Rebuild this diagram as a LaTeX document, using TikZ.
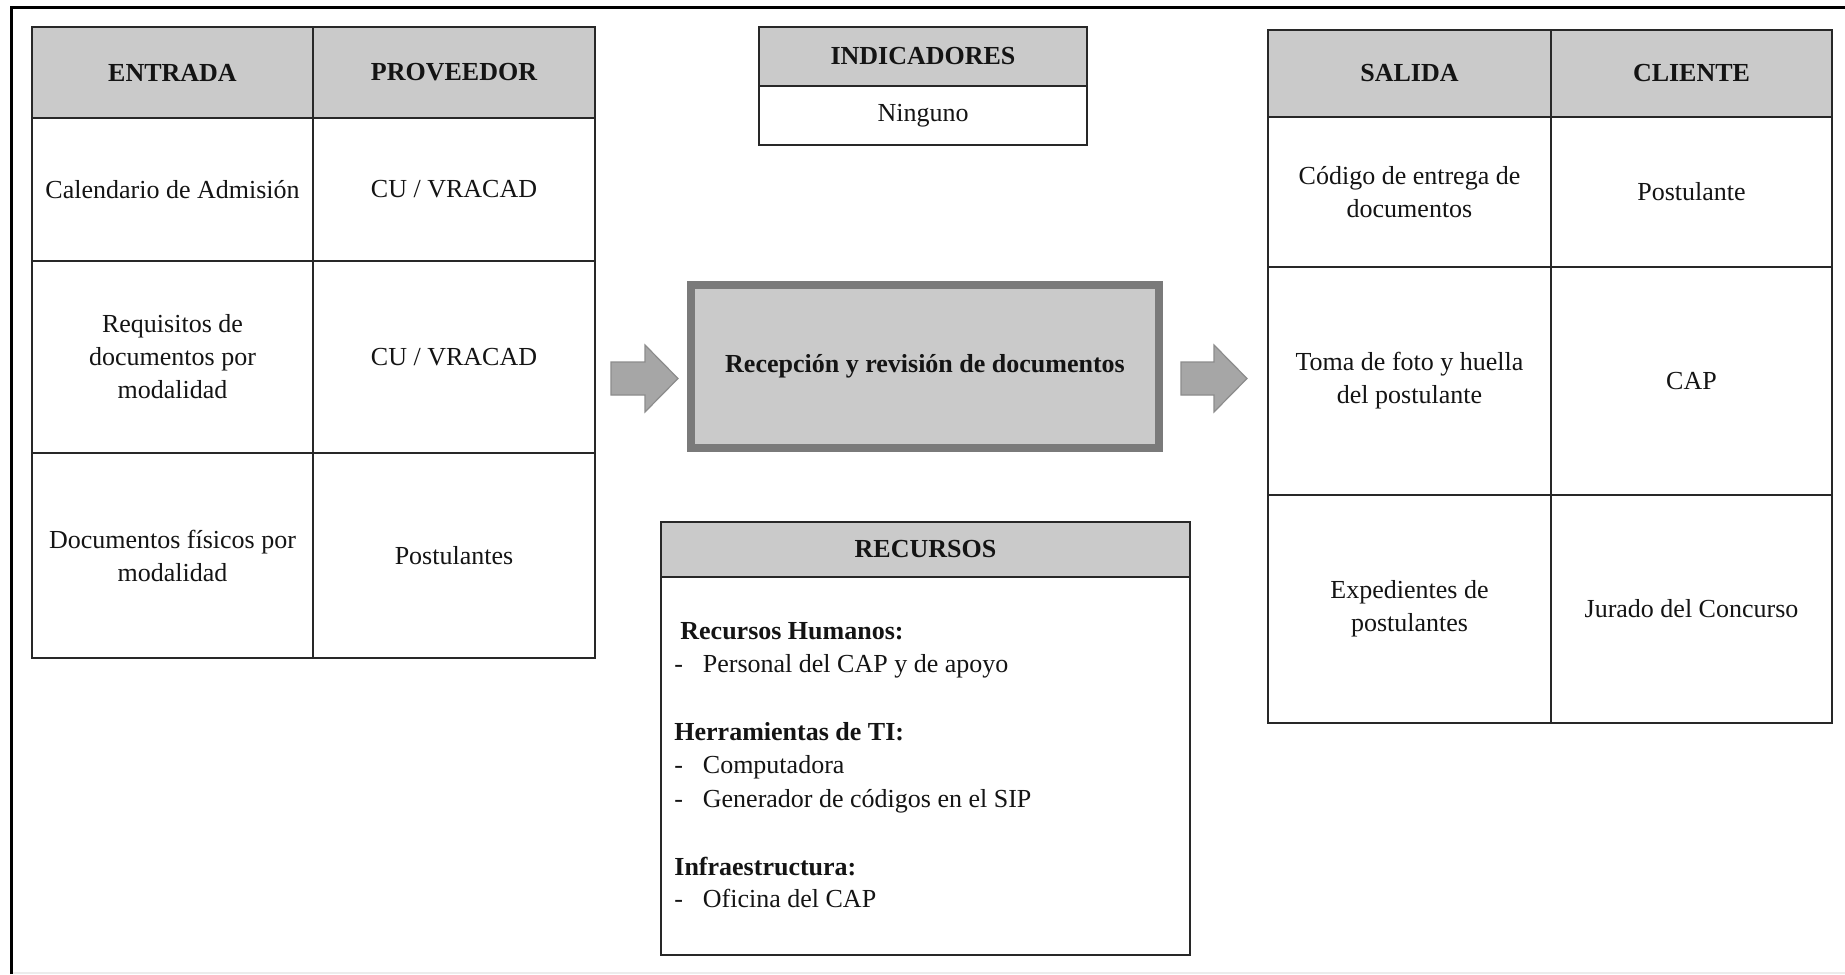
\documentclass[tikz,border=0pt]{standalone}
\usepackage{fontspec}
\setmainfont{Liberation Serif}
\definecolor{linecol}{RGB}{40,40,40}
\definecolor{txt}{RGB}{20,20,20}
\definecolor{headfill}{RGB}{202,202,202}
\definecolor{procfill}{RGB}{202,202,202}
\definecolor{procline}{RGB}{122,122,122}
\definecolor{arrfill}{RGB}{166,166,166}
\definecolor{arrline}{RGB}{140,140,140}
\definecolor{faint}{RGB}{236,236,236}
% table cell: name, x1, y1, x2, y2, style, text
\newcommand\tcell[7]{%
  \node[#6, minimum width={((#4)-(#2))*0.5pt}, minimum height={((#5)-(#3))*0.5pt}]
    (#1) at ({((#2)+(#4))/2},{((#3)+(#5))/2}) {#7};}
\newcommand\itemdash{\makebox[14.25pt][l]{-}}
\begin{document}
\begin{tikzpicture}[x=0.5pt,y=-0.5pt,
  txtfont/.style={font=\fontsize{13}{16.5}\selectfont},
  cell/.style={draw=linecol, line width=1pt, inner sep=2pt, outer sep=0pt,
    align=center, text=txt, txtfont},
  head/.style={cell, fill=headfill, font=\fontsize{13}{16.5}\selectfont\bfseries},
  process/.style={cell, draw=procline, line width=4pt, fill=procfill,
    font=\fontsize{13}{16.5}\selectfont\bfseries},
  resline/.style={anchor=base west, inner sep=0pt, text=txt, txtfont},
  blockarrow/.style={fill=arrfill, draw=arrline, line width=0.6pt, line join=miter}]
\useasboundingbox (0,0) rectangle (1845,974);
\fill[white] (0,0) rectangle (1845,974);

% outer frame (top and left edges) and faint bottom rule
\draw[faint, line width=1pt] (12,972.5) -- (1845,972.5);
\draw[black, line width=1.5pt] (11,974) -- (11,8) -- (1845,8);

% ENTRADA / PROVEEDOR table
\tcell{entH}{32}{27}{313}{118}{head}{ENTRADA}
\tcell{provH}{313}{27}{595}{118}{head}{PROVEEDOR}
\tcell{ent1}{32}{118}{313}{261}{cell}{Calendario de Admisión}
\tcell{prov1}{313}{118}{595}{261}{cell}{CU / VRACAD}
\tcell{ent2}{32}{261}{313}{453}{cell}{Requisitos de\\documentos por\\modalidad}
\tcell{prov2}{313}{261}{595}{453}{cell}{CU / VRACAD}
\tcell{ent3}{32}{453}{313}{658}{cell}{Documentos físicos por\\modalidad}
\tcell{prov3}{313}{453}{595}{658}{cell}{Postulantes}

% INDICADORES
\tcell{indH}{759}{27}{1087}{86}{head}{INDICADORES}
\tcell{ind1}{759}{86}{1087}{145}{cell}{\raisebox{-0.5pt}{Ninguno}}

% process
\tcell{proc}{691}{285}{1159}{448}{process}{\raisebox{-2pt}{Recepción y revisión de documentos}}

% block arrows into and out of the process
\filldraw[blockarrow] (611,362) -- (645,362) -- (645,345) -- (678,378.5)
  -- (645,412) -- (645,395) -- (611,395) -- cycle;
\filldraw[blockarrow] (1181,362) -- (1214,362) -- (1214,345) -- (1247,378.5)
  -- (1214,412) -- (1214,395) -- (1181,395) -- cycle;

% RECURSOS
\tcell{recH}{661}{522}{1190}{577}{head}{RECURSOS}
\tcell{recB}{661}{577}{1190}{955}{cell}{}
\node[resline] (rh)  at (680,639) {\textbf{Recursos Humanos:}};
\node[resline] (rh1) at (674,672) {\itemdash Personal del CAP y de apoyo};
\node[resline] (ti)  at (674,740) {\textbf{Herramientas de TI:}};
\node[resline] (ti1) at (674,773) {\itemdash Computadora};
\node[resline] (ti2) at (674,807) {\itemdash Generador de códigos en el SIP};
\node[resline] (inf) at (674,875) {\textbf{Infraestructura:}};
\node[resline] (inf1) at (674,907) {\itemdash Oficina del CAP};

% SALIDA / CLIENTE table
\tcell{salH}{1268}{30}{1551}{117}{head}{SALIDA}
\tcell{cliH}{1551}{30}{1832}{117}{head}{CLIENTE}
\tcell{sal1}{1268}{117}{1551}{267}{cell}{Código de entrega de\\documentos}
\tcell{cli1}{1551}{117}{1832}{267}{cell}{Postulante}
\tcell{sal2}{1268}{267}{1551}{495}{cell}{Toma de foto y huella\\del postulante}
\tcell{cli2}{1551}{267}{1832}{495}{cell}{CAP}
\tcell{sal3}{1268}{495}{1551}{723}{cell}{Expedientes de\\postulantes}
\tcell{cli3}{1551}{495}{1832}{723}{cell}{Jurado del Concurso}
\end{tikzpicture}
\end{document}
